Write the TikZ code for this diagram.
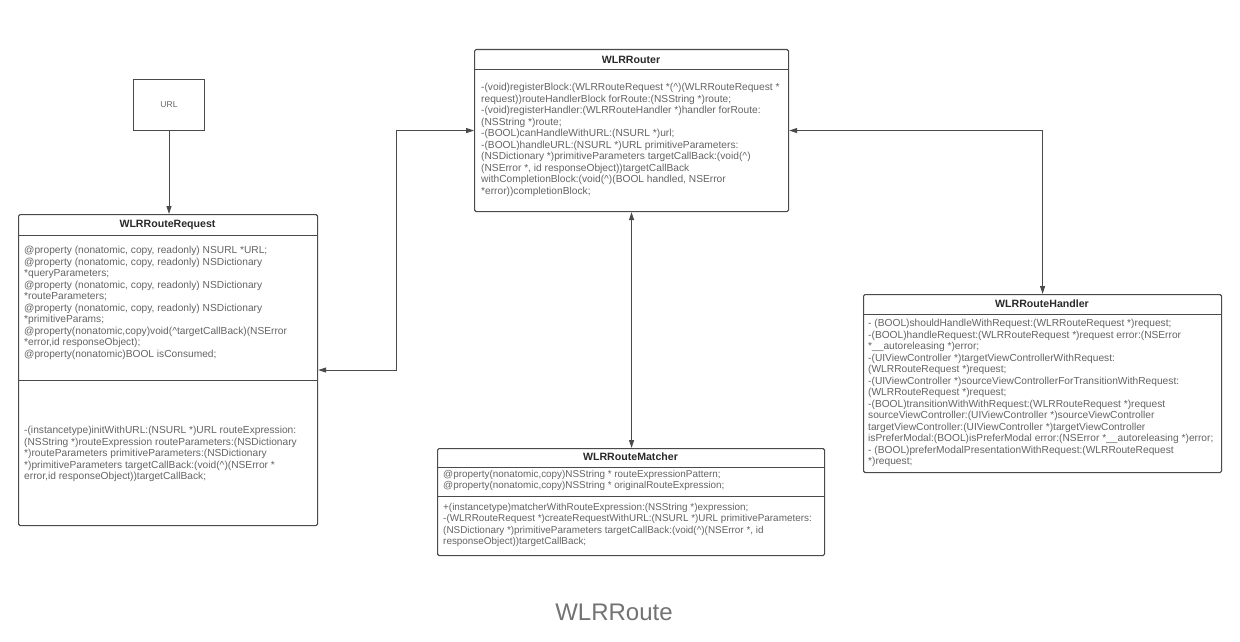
\documentclass[tikz,border=0pt]{standalone}
\usepackage{fontspec}
\setmainfont{Liberation Sans}
\usetikzlibrary{arrows.meta,calc}
\definecolor{linegray}{HTML}{4A4A4A}
\definecolor{txtgray}{HTML}{646464}
\definecolor{titlegray}{HTML}{2A2A2A}
\begin{document}
\begin{tikzpicture}[x=1pt,y=-1pt,
  box/.style={draw=linegray,line width=1.1pt,rounded corners=1.5pt,fill=white,inner sep=0pt,anchor=north west},
  sep/.style={draw=linegray,line width=1pt},
  title/.style={font=\fontsize{10.6}{12}\selectfont\bfseries,text=titlegray,inner sep=0pt},
  body/.style={font=\fontsize{10.2}{11.5}\selectfont,text=txtgray,align=left,inner sep=0pt,anchor=north west},
  conn/.style={draw=linegray,line width=1pt,{Triangle[length=8pt,width=5pt]}-{Triangle[length=8pt,width=5pt]}},
  conn1/.style={draw=linegray,line width=1pt,-{Triangle[length=8pt,width=5pt]}}]
\useasboundingbox (0,0) rectangle (1240,642);
\fill[white] (0,0) rectangle (1240,642);

% URL box
\node[draw=linegray,line width=1pt,minimum width=71pt,minimum height=51pt,inner sep=0pt,anchor=north west,
  font=\fontsize{8.5}{10}\selectfont,text=txtgray] (url) at (133,79) {URL};

% WLRRouteRequest
\node[box,minimum width=299pt,minimum height=311pt] (req) at (18,214) {};
\draw[sep] (req.west |- 0,235) -- (req.east |- 0,235);
\draw[sep] (req.west |- 0,380) -- (req.east |- 0,380);
\node[title] (reqt) at (167.5,224.5) {WLRRouteRequest};
\node[body] (reqa) at (24,246) {@property (nonatomic, copy, readonly) NSURL *URL;\\
@property (nonatomic, copy, readonly) NSDictionary\\
*queryParameters;\\
@property (nonatomic, copy, readonly) NSDictionary\\
*routeParameters;\\
@property (nonatomic, copy, readonly) NSDictionary\\
*primitiveParams;\\
@property(nonatomic,copy)void(\^{}targetCallBack)(NSError\\
*error,id responseObject);\\
@property(nonatomic)BOOL isConsumed;};
\node[body] (reqm) at (24,426) {-(instancetype)initWithURL:(NSURL *)URL routeExpression:\\
(NSString *)routeExpression routeParameters:(NSDictionary\\
*)routeParameters primitiveParameters:(NSDictionary\\
*)primitiveParameters targetCallBack:(void(\^{})(NSError *\\
error,id responseObject))targetCallBack;};

% WLRRouter
\node[box,minimum width=314pt,minimum height=162pt] (router) at (474,49) {};
\draw[sep] (router.west |- 0,70) -- (router.east |- 0,70);
\node[title] (routert) at (631,59.5) {WLRRouter};
\node[body] (routerm) at (481,83) {-(void)registerBlock:(WLRRouteRequest *(\^{})(WLRRouteRequest *\\
request))routeHandlerBlock forRoute:(NSString *)route;\\
-(void)registerHandler:(WLRRouteHandler *)handler forRoute:\\
(NSString *)route;\\
-(BOOL)canHandleWithURL:(NSURL *)url;\\
-(BOOL)handleURL:(NSURL *)URL primitiveParameters:\\
(NSDictionary *)primitiveParameters targetCallBack:(void(\^{})\\
(NSError *, id responseObject))targetCallBack\\
withCompletionBlock:(void(\^{})(BOOL handled, NSError\\
*error))completionBlock;};

% WLRRouteHandler
\node[box,minimum width=358pt,minimum height=178pt] (handler) at (863,294) {};
\draw[sep] (handler.west |- 0,314) -- (handler.east |- 0,314);
\node[title] (handlert) at (1042,304) {WLRRouteHandler};
\node[body] (handlerm) at (868,319) {- (BOOL)shouldHandleWithRequest:(WLRRouteRequest *)request;\\
-(BOOL)handleRequest:(WLRRouteRequest *)request error:(NSError\\
*\_\_autoreleasing *)error;\\
-(UIViewController *)targetViewControllerWithRequest:\\
(WLRRouteRequest *)request;\\
-(UIViewController *)sourceViewControllerForTransitionWithRequest:\\
(WLRRouteRequest *)request;\\
-(BOOL)transitionWithWithRequest:(WLRRouteRequest *)request\\
sourceViewController:(UIViewController *)sourceViewController\\
targetViewController:(UIViewController *)targetViewController\\
isPreferModal:(BOOL)isPreferModal error:(NSError *\_\_autoreleasing *)error;\\
- (BOOL)preferModalPresentationWithRequest:(WLRRouteRequest\\
*)request;};

% WLRRouteMatcher
\node[box,minimum width=387pt,minimum height=107pt] (matcher) at (437,448) {};
\draw[sep] (matcher.west |- 0,467) -- (matcher.east |- 0,467);
\draw[sep] (matcher.west |- 0,496) -- (matcher.east |- 0,496);
\node[title] (matchert) at (630.5,457) {WLRRouteMatcher};
\node[body,font=\fontsize{9.9}{11.5}\selectfont] (matchera) at (443,470) {@property(nonatomic,copy)NSString * routeExpressionPattern;\\
@property(nonatomic,copy)NSString * originalRouteExpression;};
\node[body,font=\fontsize{9.9}{11.5}\selectfont] (matcherm) at (443,503) {+(instancetype)matcherWithRouteExpression:(NSString *)expression;\\
-(WLRRouteRequest *)createRequestWithURL:(NSURL *)URL primitiveParameters:\\
(NSDictionary *)primitiveParameters targetCallBack:(void(\^{})(NSError *, id\\
responseObject))targetCallBack;};

% connectors
\draw[conn1] (url.south) -- (url.south |- req.north);
\draw[conn] (req.east) -| ($(req.east)!0.5!(router.west)$) |- (router.west);
\draw[conn] (router.east) -| (handler.north);
\draw[conn] (router.south) -- (router.south |- matcher.north);

% caption
\node[font=\fontsize{24}{28}\selectfont,text=black!55,inner sep=0pt] (cap) at (614,612) {WLRRoute};
\end{tikzpicture}
\end{document}
